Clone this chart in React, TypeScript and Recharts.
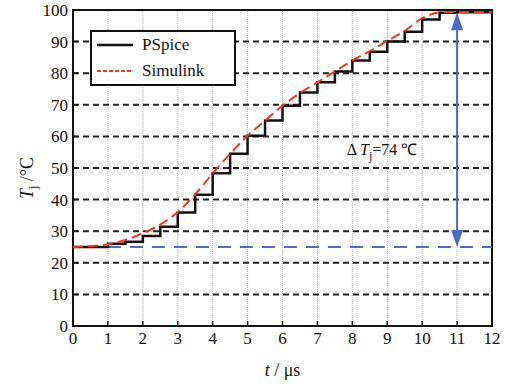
import React from 'react';
import {
  LineChart,
  Line,
  XAxis,
  YAxis,
  ReferenceLine,
  ReferenceArea,
  ReferenceDot,
} from 'recharts';

const times = [0, 0.5, 1, 1.5, 2, 2.5, 3, 3.5, 4, 4.5, 5, 5.5, 6, 6.5, 7, 7.5, 8, 8.5, 9, 9.5, 10, 10.5, 11, 11.5, 12];
const pspice = [25, 25, 26.0, 26.7, 28.5, 31.4, 35.9, 41.5, 48.3, 54.5, 60.2, 65.0, 69.7, 73.9, 77.1, 80.5, 84.0, 86.8, 90.0, 93.1, 97.0, 99.1, 99.3, 99.3, 99.3];
const simulink = [25, 25.3, 25.9, 27.2, 29.4, 32.1, 36.1, 41.7, 48.3, 54.5, 60.2, 65.0, 69.7, 73.7, 77.1, 80.6, 84.0, 87.0, 90.2, 93.4, 97.4, 99.2, 99.4, 99.4, 99.4];

const xTicks = [0, 1, 2, 3, 4, 5, 6, 7, 8, 9, 10, 11, 12];
const yTicks = [0, 10, 20, 30, 40, 50, 60, 70, 80, 90, 100];
const gridX = [1, 2, 3, 4, 5, 6, 7, 8, 9, 10, 11];
const gridY = [10, 20, 30, 40, 50, 60, 70, 80, 90];

// ΔTj annotation
const ambient = 25;
const peak = 99.3;
const arrowAt = 11;
const baseStart = 1;

const series = [
  { key: 'pspice', name: 'PSpice', color: '#111', width: 2.5, dash: undefined, curve: 'stepAfter' },
  { key: 'simulink', name: 'Simulink', color: '#f03a22', width: 2, dash: '10 5', curve: 'monotone' },
];

const data = times.map((t, i) => ({ t, pspice: pspice[i], simulink: simulink[i] }));

const FONT = 'Liberation Serif';
const BLUE = '#4a6cc4';

export default function App() {
  return (
    <div
      style={{
        position: 'absolute',
        left: 0,
        top: 0,
        width: 513,
        height: 384,
        background: '#fff',
        fontFamily: FONT,
      }}
    >
      <LineChart width={513} height={384} data={data} margin={{ top: 10, right: 21, left: 0, bottom: 0 }}>
        <XAxis
          dataKey="t"
          type="number"
          domain={[0, 12]}
          ticks={xTicks}
          axisLine={false}
          tickSize={-5}
          tickMargin={11}
          tickLine={{ stroke: '#111', strokeWidth: 1.5 }}
          tick={{ fill: '#111', fontSize: 17, fontFamily: FONT }}
          height={58}
          label={{
            content: (props: any) => {
              const vb = props.viewBox || { x: 73, y: 326, width: 419 };
              return (
                <text x={vb.x + vb.width / 2} y={376} textAnchor="middle" fontFamily={FONT} fontSize={18} fill="#111">
                  <tspan fontStyle="italic">t</tspan>
                  <tspan> / μs</tspan>
                </text>
              );
            },
          }}
        />
        <YAxis
          type="number"
          domain={[0, 100]}
          ticks={yTicks}
          axisLine={false}
          tickSize={-5}
          tickMargin={10}
          tickLine={{ stroke: '#111', strokeWidth: 1.5 }}
          tick={{ fill: '#111', fontSize: 17, fontFamily: FONT }}
          width={73}
          label={{
            content: () => (
              <text x={33} y={178} transform="rotate(-90, 33, 178)" textAnchor="middle" fontFamily={FONT} fontSize={18} fill="#111">
                <tspan fontStyle="italic">T</tspan>
                <tspan dy={4} fontSize={12}>j</tspan>
                <tspan dy={-4}> /°C</tspan>
              </text>
            ),
          }}
        />

        {gridX.map((x) => (
          <ReferenceLine key={'gx' + x} x={x} stroke="#b0b0b0" strokeWidth={1} strokeDasharray="1 1" />
        ))}
        {gridY.map((y) => (
          <ReferenceLine key={'gy' + y} y={y} stroke="#222" strokeWidth={2} strokeDasharray="6 4" />
        ))}

        <ReferenceLine
          segment={[{ x: baseStart, y: ambient }, { x: 12, y: ambient }]}
          stroke={BLUE}
          strokeWidth={2}
          strokeDasharray="13 9"
        />

        {series.map((s) => (
          <Line
            key={s.key}
            type={s.curve as any}
            dataKey={s.key}
            name={s.name}
            stroke={s.color}
            strokeWidth={s.width}
            strokeDasharray={s.dash}
            dot={false}
            isAnimationActive={false}
          />
        ))}

        <ReferenceLine
          segment={[{ x: arrowAt, y: ambient + 4 }, { x: arrowAt, y: peak - 4 }]}
          stroke={BLUE}
          strokeWidth={2}
        />
        <ReferenceDot
          x={arrowAt}
          y={peak}
          r={0}
          shape={(p: any) => (
            <polygon points={`${p.cx},${p.cy} ${p.cx - 6},${p.cy + 18} ${p.cx + 6},${p.cy + 18}`} fill={BLUE} />
          )}
        />
        <ReferenceDot
          x={arrowAt}
          y={ambient}
          r={0}
          shape={(p: any) => (
            <polygon points={`${p.cx},${p.cy} ${p.cx - 6},${p.cy - 17} ${p.cx + 6},${p.cy - 17}`} fill={BLUE} />
          )}
        />
        <ReferenceDot
          x={8.85}
          y={54}
          r={0}
          shape={(p: any) => (
            <text x={p.cx} y={p.cy} textAnchor="middle" fontFamily={FONT} fontSize={16} fill="#111">
              <tspan>Δ </tspan>
              <tspan fontStyle="italic">T</tspan>
              <tspan dy={5} fontSize={12}>j</tspan>
              <tspan dy={-5}>=74 ℃</tspan>
            </text>
          )}
        />

        <ReferenceArea x1={0} x2={12} y1={0} y2={100} fill="none" stroke="#111" strokeWidth={2} />
      </LineChart>

      <div
        style={{
          position: 'absolute',
          left: 90,
          top: 30,
          width: 142,
          height: 52,
          border: '2px solid #111',
          background: '#fff',
          fontSize: 17,
          color: '#111',
        }}
      >
        {series.map((s) => (
          <div key={s.key} style={{ display: 'flex', alignItems: 'center', height: 26, paddingLeft: 4 }}>
            <svg width={40} height={10}>
              <line x1={1} x2={37} y1={5} y2={5} stroke={s.color} strokeWidth={s.width} strokeDasharray={s.dash ? '4 2' : undefined} />
            </svg>
            <span style={{ marginLeft: 6 }}>{s.name}</span>
          </div>
        ))}
      </div>
    </div>
  );
}
